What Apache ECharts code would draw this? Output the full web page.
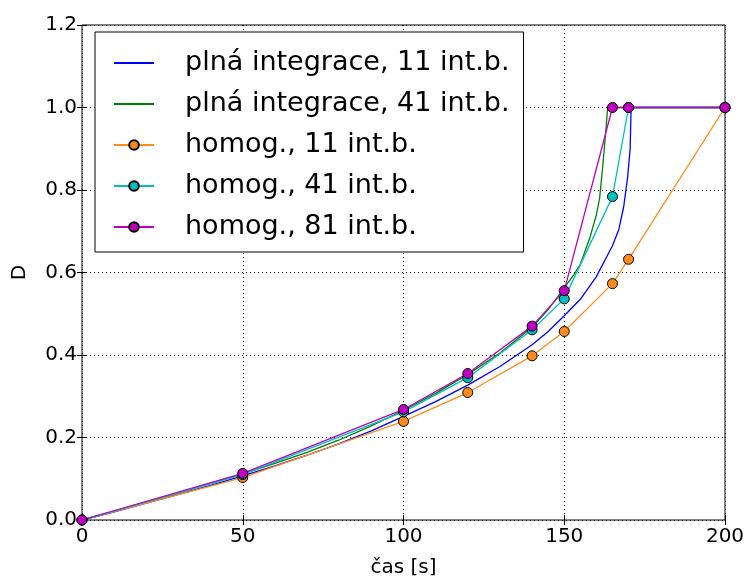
<!DOCTYPE html>
<html>
<head>
<meta charset="utf-8">
<script src="https://cdn.jsdelivr.net/npm/echarts@6/dist/echarts.min.js"></script>
<style>
    html, body { margin: 0; padding: 0; background: #fff; }
    #chart { width: 748px; height: 579px; }
</style>
</head>
<body>
<div id="chart"></div>
<script type="text/javascript">
    // plna integrace, 11 int.b.
    var tFull11 = [0, 10, 20, 30, 40, 50, 60, 70, 80, 90, 100, 110, 120, 130, 140, 145, 150, 155, 160, 163, 165, 167, 168.5, 169.7, 170.5, 170.8, 200];
    var dFull11 = [0, 0.02, 0.041, 0.062, 0.084, 0.107, 0.131, 0.157, 0.185, 0.216, 0.251, 0.287, 0.327, 0.372, 0.425, 0.457, 0.495, 0.535, 0.59, 0.635, 0.665, 0.705, 0.76, 0.83, 0.9, 1.0, 1.0];
    // plna integrace, 41 int.b.
    var tFull41 = [0, 10, 20, 30, 40, 50, 60, 70, 80, 90, 100, 110, 120, 130, 140, 145, 150, 153, 155, 158, 160, 161, 162, 163, 163.5, 200];
    var dFull41 = [0, 0.021, 0.043, 0.066, 0.089, 0.112, 0.137, 0.164, 0.194, 0.228, 0.266, 0.307, 0.353, 0.405, 0.467, 0.51, 0.563, 0.595, 0.62, 0.685, 0.74, 0.78, 0.86, 0.95, 1.0, 1.0];
    // homog.
    var tHomog = [0, 50, 100, 120, 140, 150, 165, 170, 200];
    var dHomog11 = [0, 0.103, 0.239, 0.309, 0.398, 0.457, 0.573, 0.632, 1.0];
    var dHomog41 = [0, 0.11, 0.262, 0.345, 0.461, 0.536, 0.784, 1.0, 1.0];
    var dHomog81 = [0, 0.113, 0.268, 0.355, 0.47, 0.556, 1.0, 1.0, 1.0];

    var xTicks = [0, 50, 100, 150, 200];
    var yTicks = [0, 0.2, 0.4, 0.6, 0.8, 1.0, 1.2];

    function pairs(xs, ys) {
        var out = [];
        for (var i = 0; i < xs.length; i++) {
            out.push([xs[i], ys[i]]);
        }
        return out;
    }

    var font = 'DejaVu Sans';
    var chart = echarts.init(document.getElementById('chart'));

    function lineSeries(name, color, data) {
        return {
            name: name,
            type: 'line',
            data: data,
            symbol: 'none',
            lineStyle: { color: color, width: 1.3 },
            itemStyle: { color: color }
        };
    }

    function markSeries(name, color, data) {
        return {
            name: name,
            type: 'line',
            data: data,
            symbol: 'circle',
            symbolSize: 10,
            showSymbol: true,
            lineStyle: { color: color, width: 1.3 },
            itemStyle: { color: color, borderColor: '#000', borderWidth: 1 }
        };
    }

    var baseX = {
        type: 'value',
        min: xTicks[0],
        max: xTicks[xTicks.length - 1],
        interval: 50,
        axisLine: { show: false },
        axisTick: { show: true, inside: true, length: 5, lineStyle: { color: '#000' } },
        splitLine: { show: false }
    };
    var baseY = {
        type: 'value',
        min: yTicks[0],
        max: yTicks[yTicks.length - 1],
        interval: 0.2,
        axisLine: { show: false },
        axisTick: { show: true, inside: true, length: 5, lineStyle: { color: '#000' } },
        splitLine: { show: false }
    };

    // no marker in the legend for the plain lines
    var noMarker = { color: 'transparent', borderWidth: 0 };

    var option = {
        animation: false,
        backgroundColor: '#fff',
        grid: {
            left: 82, right: 23, top: 25, bottom: 59,
            outerBoundsMode: 'none',
            show: true, borderColor: '#000', borderWidth: 1, backgroundColor: 'transparent'
        },
        legend: {
            orient: 'vertical',
            left: 95,
            top: 32,
            backgroundColor: '#fff',
            borderColor: '#000',
            borderWidth: 1,
            borderRadius: 0,
            padding: [16, 14, 10, 18],
            itemWidth: 40,
            itemHeight: 12,
            itemGap: 11,
            textStyle: { fontFamily: font, fontSize: 27, color: '#000', lineHeight: 30, padding: [0, 0, 0, 26] },
            data: [
                { name: 'plná integrace, 11 int.b.', itemStyle: noMarker },
                { name: 'plná integrace, 41 int.b.', itemStyle: noMarker },
                'homog., 11 int.b.',
                'homog., 41 int.b.',
                'homog., 81 int.b.'
            ]
        },
        xAxis: [
            Object.assign({}, baseX, {
                position: 'bottom',
                name: 'čas [s]',
                nameLocation: 'middle',
                nameGap: 38,
                nameTextStyle: { fontFamily: font, fontSize: 20, color: '#000' },
                axisLabel: { fontFamily: font, fontSize: 20, color: '#000', margin: 7 },
                splitLine: { show: true, lineStyle: { color: '#000', type: [1, 3], width: 1 } }
            }),
            Object.assign({}, baseX, { position: 'top', axisLabel: { show: false } })
        ],
        yAxis: [
            Object.assign({}, baseY, {
                position: 'left',
                name: 'D',
                nameLocation: 'middle',
                nameGap: 52,
                nameRotate: 90,
                nameTextStyle: { fontFamily: font, fontSize: 20, color: '#000' },
                axisLabel: {
                    fontFamily: font, fontSize: 20, color: '#000', margin: 5,
                    formatter: function (v) { return v.toFixed(1); }
                },
                splitLine: { show: true, lineStyle: { color: '#000', type: [1, 3], width: 1 } }
            }),
            Object.assign({}, baseY, { position: 'right', axisLabel: { show: false } })
        ],
        series: [
            lineSeries('plná integrace, 11 int.b.', '#0000ff', pairs(tFull11, dFull11)),
            lineSeries('plná integrace, 41 int.b.', '#008000', pairs(tFull41, dFull41)),
            markSeries('homog., 11 int.b.', '#ff8c1a', pairs(tHomog, dHomog11)),
            markSeries('homog., 41 int.b.', '#00bfbf', pairs(tHomog, dHomog41)),
            markSeries('homog., 81 int.b.', '#bf00bf', pairs(tHomog, dHomog81))
        ]
    };
    chart.setOption(option);
</script>
</body>
</html>
